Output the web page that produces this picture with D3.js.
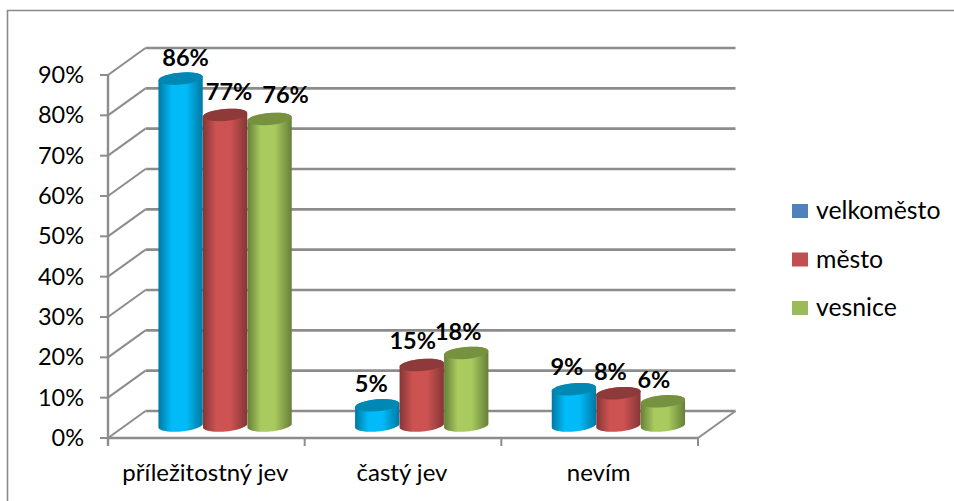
<!DOCTYPE html>
<html><head><meta charset="utf-8">
<script src="https://cdn.jsdelivr.net/npm/d3@7"></script>
<style>html,body{margin:0;background:#fff}svg{display:block}text{font-family:Lato,"Open Sans",sans-serif;fill:#000}</style>
</head><body><svg id="c" width="954" height="501"></svg>
<script>
const categories = ["příležitostný jev", "častý jev", "nevím"];
const seriesNames = ["velkoměsto", "město", "vesnice"];
const velkomesto = [86, 5, 9];
const mesto = [77, 15, 8];
const vesnice = [76, 18, 6];
const yTicks = [0,10,20,30,40,50,60,70,80,90];

const seriesValues = [velkomesto, mesto, vesnice];
const svg = d3.select("#c");
const defs = svg.append("defs");
const palette = [
  {edge:"#0079a3", mid:"#00bbf8", top:"#0088b4", legend:"#4f81bd"},
  {edge:"#853636", mid:"#cd5352", top:"#8e3a3a", legend:"#c0504d"},
  {edge:"#667f38", mid:"#a8ca5e", top:"#76913f", legend:"#9bbb59"}
];
palette.forEach((p,i)=>{
  const g = defs.append("linearGradient").attr("id","g"+i);
  [[0,p.edge],[.3,p.mid],[.62,p.mid],[1,p.edge]].forEach(s=>g.append("stop").attr("offset",s[0]).attr("stop-color",s[1]));
});

// 3D frame
const x = d3.scaleBand().domain(categories).range([108,698]);
const y = d3.scaleLinear().domain([0,90]).range([438,75]);
const depth = {dx:37.5, dy:-27};
const grid = "#8c8c8c";
const g = svg.append("g");

// outer chart border
g.append("path").attr("d","M7.5,501V10.5H954").attr("fill","none").attr("stroke","#8a8a8a").attr("stroke-width",1.6);

// back wall gridlines + side wall diagonals
yTicks.forEach(t=>{
  const yy=y(t);
  g.append("line").attr("x1",108+depth.dx).attr("x2",698+depth.dx).attr("y1",yy+depth.dy).attr("y2",yy+depth.dy)
    .attr("stroke",grid).attr("stroke-width",2.6);
  g.append("line").attr("x1",108).attr("x2",108+depth.dx).attr("y1",yy).attr("y2",yy+depth.dy)
    .attr("stroke",grid).attr("stroke-width",2);
  g.append("line").attr("x1",100).attr("x2",108).attr("y1",yy).attr("y2",yy).attr("stroke",grid).attr("stroke-width",2);
  g.append("text").attr("x",84).attr("y",yy+8).attr("text-anchor","end").attr("font-size",23.5).text(t+"%");
});
// floor and axes
g.append("line").attr("x1",108).attr("x2",108).attr("y1",y(90)).attr("y2",446).attr("stroke",grid).attr("stroke-width",2.4);
g.append("line").attr("x1",108).attr("x2",698).attr("y1",y(0)).attr("y2",y(0)).attr("stroke",grid).attr("stroke-width",2.6);
g.append("line").attr("x1",698).attr("x2",698+depth.dx).attr("y1",y(0)).attr("y2",y(0)+depth.dy).attr("stroke",grid).attr("stroke-width",2);
[...categories.map(c=>x(c)), 698].forEach(v=>g.append("line").attr("x1",v).attr("x2",v).attr("y1",y(0)).attr("y2",446).attr("stroke",grid).attr("stroke-width",2));
categories.forEach((c,i)=>g.append("text").attr("x",x(c)+x.bandwidth()/2-1).attr("y",481).attr("text-anchor","middle").attr("font-size",24).text(c));

// cylinders: outlines are sampled from the tilted ellipses
const barW = 44.5, rx = barW/2, ry = 6, tilt = -5*Math.PI/180;
const sub = d3.scaleBand().domain([0,1,2]).range([-barW*1.5,barW*1.5]);
const cx = (c,s)=>x(c)+x.bandwidth()/2+depth.dx/2+sub(s)+barW/2;
const cy = v=>y(v)+depth.dy/2+1;
const ellipsePt = (X,Y,t)=>[
  X+rx*Math.cos(t)*Math.cos(tilt)-ry*Math.sin(t)*Math.sin(tilt),
  Y+rx*Math.cos(t)*Math.sin(tilt)+ry*Math.sin(t)*Math.cos(tilt)
];
const arcT = (a,b)=>d3.range(0,25).map(k=>a+(b-a)*k/24);
const poly = d3.line();
seriesValues.forEach((vals,s)=>{
  vals.forEach((v,i)=>{
    const X=cx(categories[i],s), Yt=cy(v), Yb=cy(0);
    const body = [...arcT(Math.PI,2*Math.PI).map(t=>ellipsePt(X,Yt,t)), ...arcT(0,Math.PI).map(t=>ellipsePt(X,Yb,t))];
    g.append("path").attr("d",poly(body)+"Z").attr("fill",`url(#g${s})`);
    const lid = arcT(0,2*Math.PI).map(t=>ellipsePt(X,Yt,t));
    g.append("path").attr("d",poly(lid)+"Z").attr("fill",palette[s].top);
  });
});

// data labels, hand-placed in the original chart
const labelShift = [[[5,-13],[4,-15],[16,-16]],[[-6,-13],[-9,-16],[-8,-13]],[[-7,-14],[-8,-13],[-9,-13]]];
const labelLayer = svg.append("g");
seriesValues.forEach((vals,s)=>vals.forEach((v,i)=>{
  const sh = labelShift[i][s];
  labelLayer.append("text").attr("x",cx(categories[i],s)+sh[0]).attr("y",cy(v)+sh[1])
    .attr("text-anchor","middle").attr("font-size",23.5).attr("font-weight",700).text(v+"%");
}));

// legend
const leg = svg.append("g");
const ly = d3.scalePoint().domain(seriesNames).range([211,308]);
seriesNames.forEach((n,i)=>{
  leg.append("rect").attr("x",792).attr("y",ly(n)-7).attr("width",16).attr("height",14).attr("fill",palette[i].legend);
  leg.append("text").attr("x",816).attr("y",ly(n)+8).attr("font-size",24.8).text(n);
});
</script></body></html>
